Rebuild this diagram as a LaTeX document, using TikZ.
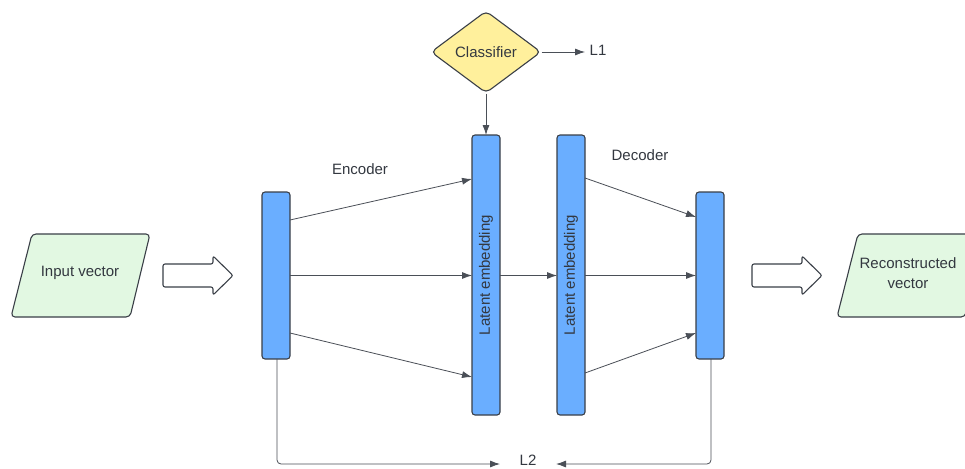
\documentclass[tikz,border=0pt]{standalone}
\usepackage{fontspec}
\setmainfont{Liberation Sans}
\usetikzlibrary{arrows.meta,shapes.geometric,shapes.arrows}

\definecolor{edge}{HTML}{3A3F47}
\definecolor{wire}{HTML}{4A4F57}
\definecolor{barfill}{HTML}{6AAEFF}
\definecolor{clsfill}{HTML}{FFF09C}
\definecolor{iofill}{HTML}{E2F8E2}
\definecolor{txt}{HTML}{333840}

\tikzset{
  layer/.style={draw=edge, line width=1.1pt, fill=barfill, rounded corners=3pt},
  conn/.style={draw=wire, line width=0.8pt, -{Latex[length=10pt,width=7pt]}},
  lbl/.style={text=txt, font=\fontsize{15}{18}\selectfont, inner sep=0pt},
  iobox/.style={draw=edge, line width=1.1pt, fill=iofill, rounded corners=4pt},
  hollow/.style={draw=edge, line width=1.1pt, fill=white, rounded corners=2pt},
}

\begin{document}
\begin{tikzpicture}[x=1pt,y=-1pt]
\clip (0,0) rectangle (965,468);
\fill[white] (0,0) rectangle (965,468);

% input and output parallelograms
\draw[iobox] (32,234) -- (150,234) -- (130,317) -- (11,317) -- cycle;
\node[lbl] (inp) at (80,273) {Input vector};
\draw[iobox] (858,234) -- (985,234) -- (965,317) -- (837,317) -- cycle;
\node[lbl, align=center, font=\fontsize{15}{20}\selectfont] (rec) at (908,273) {Reconstructed\\vector};

% block arrows
\draw[hollow] (163,264) -- (213,264) -- (213,256) -- (233,275.5) -- (213,295) -- (213,287) -- (163,287) -- cycle;
\draw[hollow] (752,264) -- (802,264) -- (802,256) -- (822,275.5) -- (802,295) -- (802,287) -- (752,287) -- cycle;

% layers
\draw[layer] (262,192) rectangle (290,359);
\draw[layer] (472,135) rectangle (500,415);
\node[lbl, rotate=90] (lat1) at (486,275) {Latent embedding};
\draw[layer] (557,135) rectangle (585,415);
\node[lbl, rotate=90] (lat2) at (571,275) {Latent embedding};
\draw[layer] (696,192) rectangle (724,359);

% classifier
\node[diamond, draw=edge, line width=1.1pt, fill=clsfill, rounded corners=5pt,
      minimum width=110pt, minimum height=82pt, inner sep=0pt, lbl] (cls) at (486,52) {Classifier};
\node[lbl] (l1) at (598,50) {L1};
\node[lbl] (enc) at (360,169) {Encoder};
\node[lbl] (dec) at (640,155) {Decoder};
\node[lbl] (l2) at (528,460) {L2};

% connector ends
\coordinate (c1e) at (585,52);
\coordinate (c2e) at (486,135);

\draw[conn] (cls.south) -- (c2e);
\draw[conn] (cls.east) -- (c1e);

% encoder fan
\draw[conn] (290,220) -- (472,179);
\draw[conn] (290,275.5) -- (472,275.5);
\draw[conn] (290,333) -- (472,377);
% bottleneck
\draw[conn] (500,275.5) -- (557,275.5);
% decoder fan
\draw[conn] (585,178) -- (696,217);
\draw[conn] (585,275.5) -- (696,275.5);
\draw[conn] (585,373) -- (696,333);

% reconstruction loss wires
\draw[conn, rounded corners=4pt] (277,359) -- (277,464) -- (500,464);
\draw[conn, rounded corners=4pt] (711,359) -- (711,464) -- (556,464);
\end{tikzpicture}
\end{document}
